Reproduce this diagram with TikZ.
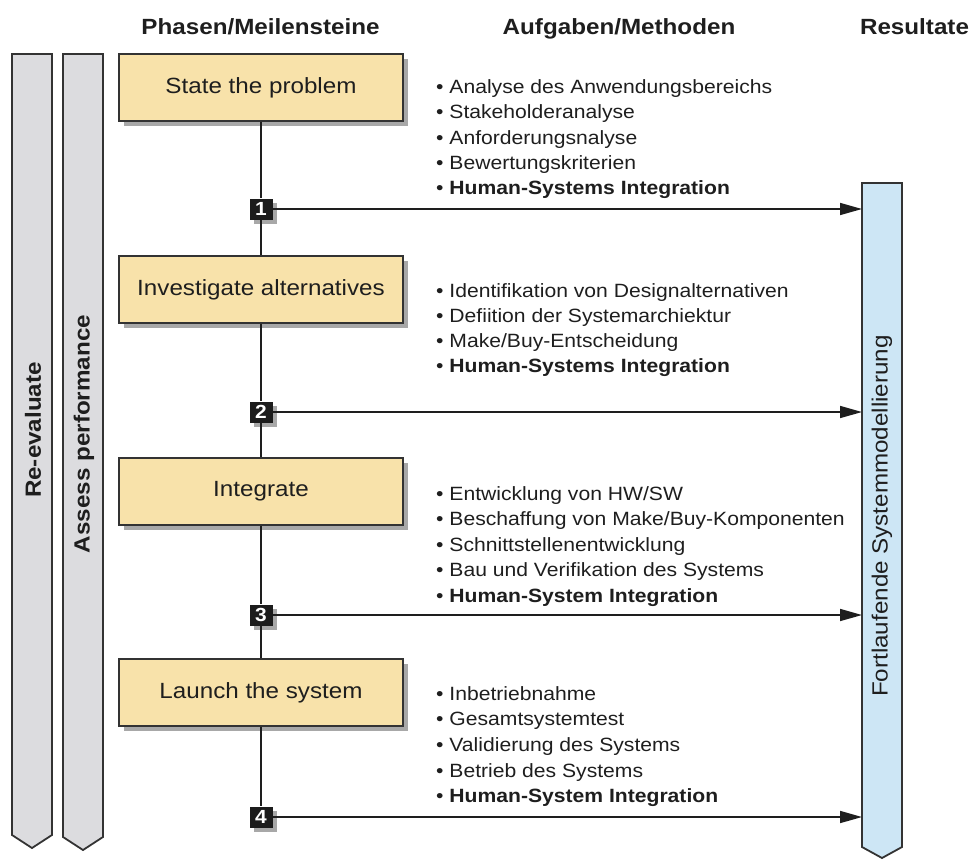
\documentclass[tikz,border=0pt]{standalone}
\usepackage{fontspec}
\setmainfont[FakeStretch=1.1]{Liberation Sans}
\usetikzlibrary{arrows.meta,shadows}

\definecolor{ink}{HTML}{1E1E1E}
\definecolor{edge}{HTML}{333333}
\definecolor{phasefill}{HTML}{F8E2AA}
\definecolor{bannerfill}{HTML}{DCDCDF}
\definecolor{resultfill}{HTML}{CDE6F5}
\definecolor{markfill}{HTML}{1C1C1C}
\definecolor{shade}{HTML}{A8A8A8}

\tikzset{
  heading/.style={anchor=base, inner sep=0pt, text=ink, font=\bfseries\fontsize{22}{26}\selectfont},
  phase/.style={draw=edge, line width=1.8pt, fill=phasefill, minimum width=284pt,
    minimum height=67pt, inner sep=0pt, text=ink, font=\fontsize{22}{26}\selectfont,
    drop shadow={shadow xshift=5pt, shadow yshift=-5pt, fill=shade, opacity=1}},
  milestone/.style={fill=markfill, minimum width=23pt, minimum height=21pt, inner sep=0pt,
    text=white, font=\bfseries\fontsize{19}{19}\selectfont,
    drop shadow={shadow xshift=4pt, shadow yshift=-4pt, fill=shade, opacity=1}},
  item/.style={anchor=base west, inner sep=0pt, text=ink, font=\fontsize{19.2}{22}\selectfont},
  banner/.style={draw=edge, line width=1.8pt, fill=bannerfill, line join=miter},
  resultbar/.style={draw=edge, line width=1.8pt, fill=resultfill, line join=miter},
  sidelabel/.style={rotate=90, inner sep=0pt, text=ink, font=\bfseries\fontsize{22}{26}\selectfont},
  resultlabel/.style={rotate=90, inner sep=0pt, text=ink, font=\fontsize{22}{26}\selectfont},
  link/.style={draw=ink, line width=1.6pt},
  flow/.style={draw=ink, line width=1.6pt, -{Triangle[length=22pt,width=12pt]}},
}

\begin{document}
\begin{tikzpicture}[x=1pt,y=-1pt]
\useasboundingbox (0,0) rectangle (971,859);

% column headings
\node[heading] (h1) at (260.5,35) {Phasen/Meilensteine};
\node[heading] (h2) at (619,35) {Aufgaben/Methoden};
\node[heading] (h3) at (914.5,35) {Resultate};

% feedback banners on the left
\draw[banner] (12,54) -- (52,54) -- (52,835) -- (32,848) -- (12,835) -- cycle;
\draw[banner] (63,54) -- (103,54) -- (103,837) -- (83,850) -- (63,837) -- cycle;
\node[sidelabel] (reeval) at (33,430) {Re-evaluate};
\node[sidelabel] (assess) at (84,434) {Assess performance};

% results bar on the right
\draw[resultbar] (862,183) -- (902,183) -- (902,847) -- (882,858) -- (862,847) -- cycle;
\node[resultlabel] (model) at (882,516) {Fortlaufende Systemmodellierung};
\coordinate (barL) at (862,0);

% phases
\node[phase] (p1) at (261,87.5) {State the problem};
\node[phase] (p2) at (261,289.5) {Investigate alternatives};
\node[phase] (p3) at (261,491.5) {Integrate};
\node[phase] (p4) at (261,692.5) {Launch the system};

% milestones
\node[milestone] (m1) at (261,209) {1};
\node[milestone] (m2) at (261,412) {2};
\node[milestone] (m3) at (261,615) {3};
\node[milestone] (m4) at (261,817) {4};

% spine between phases and milestones
\draw[link] (p1.south) -- (m1.north);
\draw[link] (m1.south) -- (p2.north);
\draw[link] (p2.south) -- (m2.north);
\draw[link] (m2.south) -- (p3.north);
\draw[link] (p3.south) -- (m3.north);
\draw[link] (m3.south) -- (p4.north);
\draw[link] (p4.south) -- (m4.north);

% milestone results into the model
\draw[flow] (m1.east) -- (m1 -| barL);
\draw[flow] (m2.east) -- (m2 -| barL);
\draw[flow] (m3.east) -- (m3 -| barL);
\draw[flow] (m4.east) -- (m4 -| barL);

% tasks and methods
\foreach \t [count=\i] in {Analyse des Anwendungsbereichs, Stakeholderanalyse,
    Anforderungsnalyse, Bewertungskriterien, {\textbf{Human-Systems Integration}}}
  \node[item] (a\i) at (436,{93.5+25.3*(\i-1)}) {\textbullet\ \t};
\foreach \t [count=\i] in {Identifikation von Designalternativen, Defiition der Systemarchiektur,
    Make/Buy-Entscheidung, {\textbf{Human-Systems Integration}}}
  \node[item] (b\i) at (436,{297+25.3*(\i-1)}) {\textbullet\ \t};
\foreach \t [count=\i] in {Entwicklung von HW/SW, Beschaffung von Make/Buy-Komponenten,
    Schnittstellenentwicklung, Bau und Verifikation des Systems, {\textbf{Human-System Integration}}}
  \node[item] (c\i) at (436,{500+25.5*(\i-1)}) {\textbullet\ \t};
\foreach \t [count=\i] in {Inbetriebnahme, Gesamtsystemtest, Validierung des Systems,
    Betrieb des Systems, {\textbf{Human-System Integration}}}
  \node[item] (d\i) at (436,{700+25.7*(\i-1)}) {\textbullet\ \t};
\end{tikzpicture}
\end{document}
